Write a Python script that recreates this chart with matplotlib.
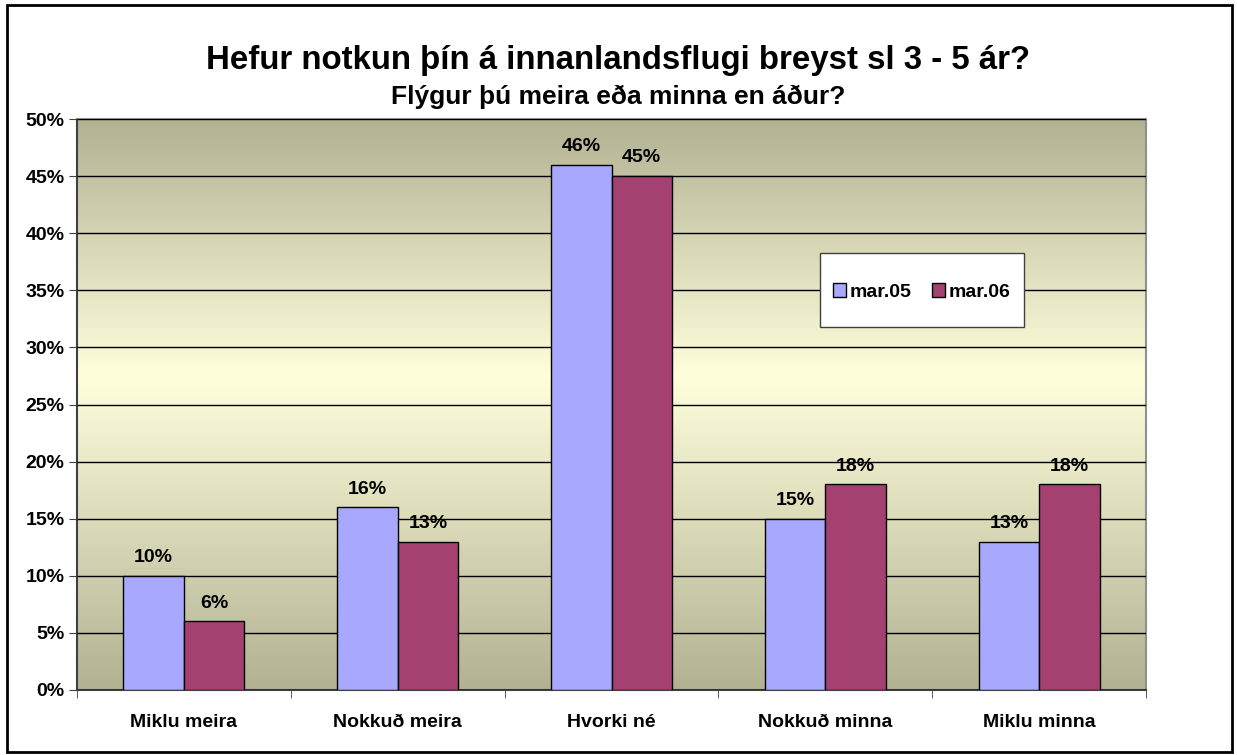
#!/usr/bin/env python3

import numpy
import matplotlib
matplotlib.use('Agg')
import matplotlib.pyplot as plt
from matplotlib.colors import LinearSegmentedColormap
from matplotlib.patches import Rectangle

categories = ['Miklu meira', 'Nokkuð meira', 'Hvorki né', 'Nokkuð minna', 'Miklu minna']
mar05 = [10, 16, 46, 15, 13]
mar06 = [6, 13, 45, 18, 18]
series_names = ['mar.05', 'mar.06']
yticks = [0, 5, 10, 15, 20, 25, 30, 35, 40, 45, 50]

plt.rcParams['font.family'] = ['Liberation Sans', 'DejaVu Sans']
plt.rcParams['font.weight'] = 'bold'

W, H = 1237, 755
fig = plt.figure(figsize=(W / 100, H / 100), dpi=100)
fig.patches.append(Rectangle((0.006, 0.004), 0.99, 0.99, transform=fig.transFigure,
                             fill=False, edgecolor='black', lw=2))
ax = fig.add_axes([77 / W, 1 - 690 / H, (1146 - 77) / W, (690 - 119) / H])

# background gradient: olive -> pale yellow -> olive
cmap = LinearSegmentedColormap.from_list('bg', [(0.0, '#B2B192'), (0.55, '#FFFFDC'), (1.0, '#B2B192')])
grad = numpy.linspace(0, 1, 256).reshape(-1, 1)
ax.imshow(grad, aspect='auto', cmap=cmap, extent=[0, 1, 0, 1], origin='lower',
          transform=ax.transAxes, zorder=0)

x = numpy.arange(len(categories))
w = 0.283
b1 = ax.bar(x - w / 2, mar05, w, color='#A8A8FE', edgecolor='black', lw=1, label=series_names[0], zorder=3)
b2 = ax.bar(x + w / 2, mar06, w, color='#A54171', edgecolor='black', lw=1, label=series_names[1], zorder=3)
for bars, vals in ((b1, mar05), (b2, mar06)):
    for bar, v in zip(bars, vals):
        ax.annotate('%d%%' % v, (bar.get_x() + bar.get_width() / 2, v), xytext=(0, 7),
                    textcoords='offset points', ha='center', va='bottom', fontsize=14, fontweight='bold')

ax.set_xlim(-0.5, len(categories) - 0.5)
ax.set_ylim(0, 50)
ax.set_yticks(yticks)
ax.set_yticklabels(['%d%%' % t for t in yticks], fontsize=14, fontweight='bold')
ax.set_xticks(x)
ax.set_xticklabels(categories, fontsize=14, fontweight='bold')
ax.tick_params(axis='x', length=0, pad=17)
ax.set_xticks(numpy.arange(len(categories) + 1) - 0.5, minor=True)
ax.tick_params(axis='x', which='minor', length=6, direction='out', color='#404040')
ax.tick_params(axis='y', length=6, direction='out', color='#404040', pad=3)
ax.yaxis.grid(True, color='black', lw=1)
ax.set_axisbelow(False)
for gl in ax.get_ygridlines():
    gl.set_zorder(1)
ax.spines['top'].set_color('#909090')
ax.spines['right'].set_color('#909090')
ax.spines['left'].set_color('#404040')
ax.spines['bottom'].set_color('#404040')
for s in ax.spines.values():
    s.set_linewidth(1.5)

# legend: white box drawn separately, entries placed inside it
def px_to_ax(px, py):
    return ((px - 77) / (1146 - 77), (690 - py) / (690 - 119))

lx0, ly0 = px_to_ax(820, 327)
lx1, ly1 = px_to_ax(1024, 253)
ax.add_patch(Rectangle((lx0, ly0), lx1 - lx0, ly1 - ly0, transform=ax.transAxes,
                       facecolor='white', edgecolor='#404040', lw=1, zorder=5))
leg = ax.legend(loc='center', bbox_to_anchor=px_to_ax(922, 292), ncol=2, frameon=False,
                handlelength=0.67, handleheight=0.67, handletextpad=0.2, columnspacing=1.05,
                borderpad=0, borderaxespad=0, prop={'weight': 'bold', 'size': 14})
leg.set_zorder(6)

fig.text(0.5, 1 - 69 / H, 'Hefur notkun þín á innanlandsflugi breyst sl 3 - 5 ár?', ha='center', va='baseline',
         fontsize=23.8, fontweight='bold')
fig.text(0.5, 1 - 104 / H, 'Flýgur þú meira eða minna en áður?', ha='center', va='baseline',
         fontsize=19, fontweight='bold')

fig.savefig('out.png', dpi=100)
